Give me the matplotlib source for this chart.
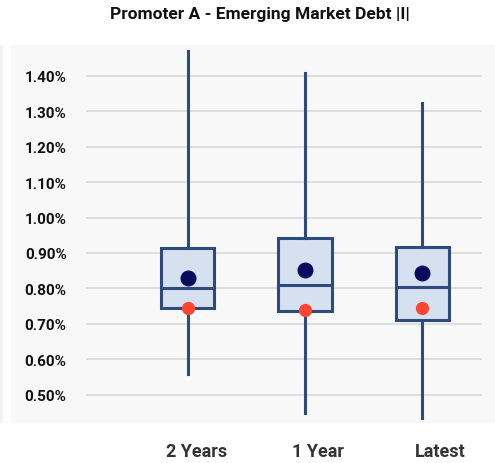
import matplotlib
matplotlib.use("Agg")
import matplotlib.pyplot as plt
from matplotlib.patches import Rectangle
from matplotlib.ticker import FuncFormatter

plt.rcParams['font.family'] = ['Roboto', 'DejaVu Sans']

# Data (values in %)
categories = ['2 Years', '1 Year', 'Latest']
whisker_low = [0.558, 0.447, 0.434]
box_low = [0.746, 0.735, 0.711]
median = [0.801, 0.809, 0.803]
box_high = [0.913, 0.943, 0.917]
whisker_high = [1.470, 1.408, 1.323]
mean = [0.829, 0.853, 0.843]
current = [0.746, 0.739, 0.745]
y_ticks = [0.5, 0.6, 0.7, 0.8, 0.9, 1.0, 1.1, 1.2, 1.3, 1.4]

EDGE = '#2d4b7d'
FILL = '#d5e1ef'
NAVY = '#0b0b5e'
RED = '#ff4530'

fig = plt.figure(figsize=(4.95, 4.64), dpi=100)
fig.patch.set_facecolor('white')
# light panel behind the plot
fig.patches.append(Rectangle((11 / 495, 1 - 424 / 464), 484 / 495, 378 / 464,
                             transform=fig.transFigure, facecolor='#f8f8f8',
                             edgecolor='none', zorder=-1))
fig.patches.append(Rectangle((0, 1 - 424 / 464), 3 / 495, 378 / 464,
                             transform=fig.transFigure, facecolor='#f3f3f3',
                             edgecolor='none', zorder=-1))

ax = fig.add_axes([86 / 495, 1 - 424 / 464, 396 / 495, 378 / 464])
ax.set_facecolor('none')
ax.set_zorder(2)

positions = [1, 2, 3]
stats = []
for i, c in enumerate(categories):
    stats.append({'label': c, 'whislo': whisker_low[i], 'q1': box_low[i],
                  'med': median[i], 'q3': box_high[i], 'whishi': whisker_high[i],
                  'fliers': []})

ax.bxp(stats, positions=positions, widths=0.455, patch_artist=True,
       showcaps=False, showfliers=False,
       boxprops=dict(facecolor=FILL, edgecolor=EDGE, linewidth=2.2),
       whiskerprops=dict(color=EDGE, linewidth=2.2),
       medianprops=dict(color=EDGE, linewidth=2.2),
       zorder=3)

ax.plot(positions, mean, 'o', color=NAVY, markersize=10.5, zorder=5)
ax.plot(positions, current, 'o', color=RED, markersize=8.5, zorder=5)

ax.set_xlim(0.133, 3.509)
ax.set_ylim(0.42, 1.487)
ax.set_yticks(y_ticks)
ax.yaxis.set_major_formatter(FuncFormatter(lambda v, p: f'{v:.2f}%'))
ax.grid(axis='y', color='#d9d9d9', linewidth=1.2, zorder=0)
ax.set_axisbelow(True)

# category labels sit a bit right of the boxes
label_shift = [0.079, 0.111, 0.151]
ax.set_xticks([p + s for p, s in zip(positions, label_shift)])
ax.set_xticklabels(categories, fontsize=13, fontweight='bold', color='#333333')
ax.tick_params(axis='x', length=0, pad=14)
ax.tick_params(axis='y', length=0, pad=14, labelsize=11)
for lbl in ax.get_yticklabels():
    lbl.set_fontweight('bold')
    lbl.set_color('#111111')

for s in ax.spines.values():
    s.set_visible(False)

fig.text(260 / 495, 1 - 15 / 464, 'Promoter A - Emerging Market Debt |I|',
         ha='center', va='center', fontsize=12.5, fontweight='bold', color='#111111')

fig.savefig('out.png', dpi=100)
